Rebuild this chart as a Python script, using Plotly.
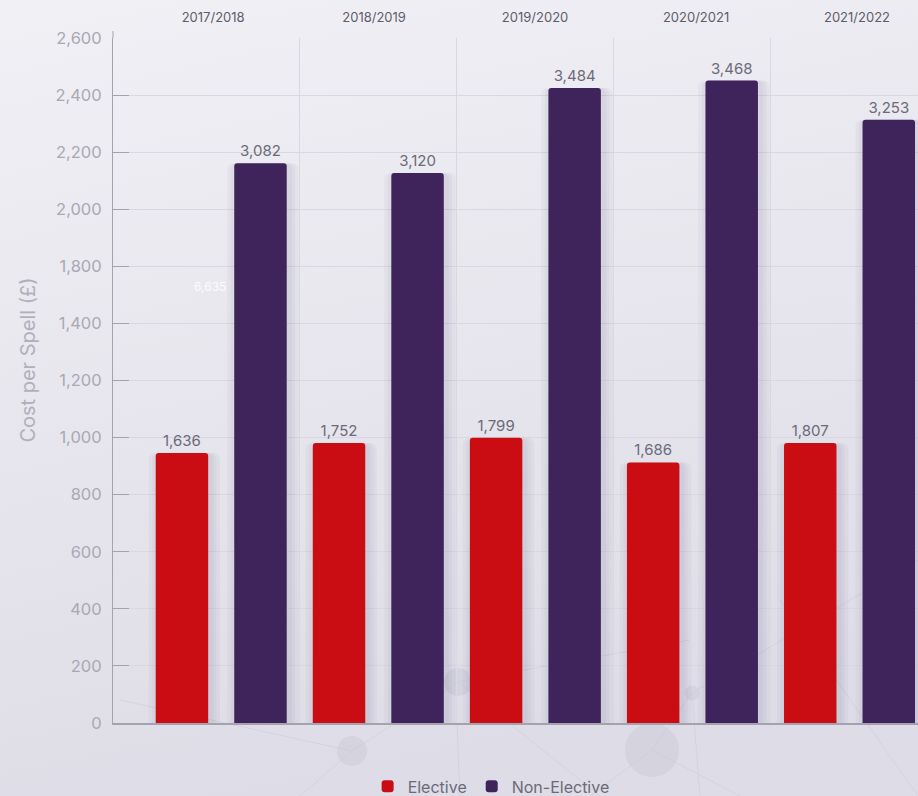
import base64
import plotly.graph_objects as go

# ---- data -------------------------------------------------------------
years = ["2017/2018", "2018/2019", "2019/2020", "2020/2021", "2021/2022"]
elective = [946, 981, 999, 913, 981]
non_elective = [1961, 1927, 2225, 2251, 2114]
elective_labels = ["1,636", "1,752", "1,799", "1,686", "1,807"]
non_elective_labels = ["3,082", "3,120", "3,484", "3,468", "3,253"]
tick_values = [0, 200, 400, 600, 800, 1000, 1200, 1400, 1600, 1800, 2000, 2200, 2400]
tick_labels = ["0", "200", "400", "600", "800", "1,000", "1,200", "1,400",
               "1,800", "2,000", "2,200", "2,400", "2,600"]
stray_label = "6,635"

# ---- style ------------------------------------------------------------
FONT = "Inter, Roboto, sans-serif"
RED = "#c90d13"
PURPLE = "#3f235b"
GRID = "#d9d8e1"
AXIS = "#a3a2ae"
W, H = 918, 796
ML, MT, MB, MR = 113, 38, 73, 0
BAR_W = 0.334
SHIFT = 0.25

x_pos = list(range(len(years)))

# soft page background with faint network decoration
svg = f"""<svg xmlns='http://www.w3.org/2000/svg' width='{W}' height='{H}' viewBox='0 0 {W} {H}' preserveAspectRatio='none'>
<defs><linearGradient id='g' x1='0' y1='0' x2='0.25' y2='1'>
<stop offset='0' stop-color='#f1f0f5'/><stop offset='1' stop-color='#dedde7'/></linearGradient></defs>
<rect width='{W}' height='{H}' fill='url(#g)'/>
<g stroke='#c6c5d3' stroke-width='1' opacity='0.45' fill='none'>
<line x1='652' y1='750' x2='692' y2='693'/>
<line x1='692' y1='693' x2='918' y2='560'/>
<line x1='692' y1='693' x2='700' y2='796'/>
<line x1='652' y1='750' x2='590' y2='796'/>
<line x1='652' y1='750' x2='740' y2='796'/>
<line x1='352' y1='751' x2='120' y2='700'/>
<line x1='352' y1='751' x2='458' y2='682'/>
<line x1='458' y1='682' x2='690' y2='640'/>
<line x1='458' y1='682' x2='600' y2='796'/>
<line x1='457' y1='723' x2='460' y2='796'/>
<line x1='780' y1='600' x2='918' y2='796'/>
<line x1='300' y1='796' x2='352' y2='751'/>
</g>
<g fill='#cccbd8' opacity='0.55'>
<circle cx='352' cy='751' r='15'/>
<circle cx='458' cy='682' r='14'/>
<circle cx='652' cy='750' r='27'/>
<circle cx='692' cy='693' r='7.5'/>
</g>
</svg>"""
bg_uri = "data:image/svg+xml;base64," + base64.b64encode(svg.encode()).decode()

fig = go.Figure()

# shadow halos behind the bars
for vals, side in ((elective, -SHIFT), (non_elective, SHIFT)):
    for extra in (0.12, 0.075, 0.035):
        w = BAR_W + extra
        fig.add_trace(go.Bar(
            x=x_pos, y=vals, width=w, offset=side - w / 2 + 0.015,
            marker=dict(color="rgba(70,60,120,0.045)", cornerradius=6, line_width=0),
            showlegend=False, hoverinfo="skip",
        ))

fig.add_trace(go.Bar(
    name="Elective", x=x_pos, y=elective, width=BAR_W, offset=-SHIFT - BAR_W / 2,
    marker=dict(color=RED, cornerradius=3, line=dict(width=0)),
    text=elective_labels, textposition="outside", constraintext="none",
    textfont=dict(family=FONT, size=15, color="#6b6a78"), cliponaxis=False,
))
fig.add_trace(go.Bar(
    name="Non-Elective", x=x_pos, y=non_elective, width=BAR_W, offset=SHIFT - BAR_W / 2,
    marker=dict(color=PURPLE, cornerradius=3, line=dict(width=0)),
    text=non_elective_labels, textposition="outside", constraintext="none",
    textfont=dict(family=FONT, size=15, color="#6b6a78"), cliponaxis=False,
))

# invisible carrier so the top category axis is drawn
fig.add_trace(go.Scatter(
    x=x_pos, y=[0] * len(years), xaxis="x2", mode="markers",
    marker=dict(opacity=0), showlegend=False, hoverinfo="skip",
))

fig.update_layout(
    width=W, height=H,
    margin=dict(l=ML, r=MR, t=MT, b=MB, pad=0, autoexpand=False),
    paper_bgcolor="#e9e8ef",
    plot_bgcolor="rgba(0,0,0,0)",
    barmode="overlay",
    font=dict(family=FONT, color="#6b6a78"),
    showlegend=True,
    legend=dict(
        orientation="h", xref="container", yref="container",
        x=0.535, xanchor="center", y=0.012, yanchor="middle",
        font=dict(family=FONT, size=16, color="#6b6a78"),
        bgcolor="rgba(0,0,0,0)", itemclick=False,
    ),
    xaxis=dict(
        range=[-0.689, 4.436], tickvals=[0.5, 1.5, 2.5, 3.5], showticklabels=False,
        showgrid=True, gridcolor=GRID, gridwidth=1, zeroline=False,
        showline=True, linecolor=AXIS, linewidth=2, ticks="", fixedrange=True,
    ),
    xaxis2=dict(
        overlaying="x", side="top", range=[-0.622, 4.379],
        tickvals=x_pos, ticktext=years, showgrid=False, zeroline=False,
        showline=False, ticks="", ticklabelstandoff=12,
        tickfont=dict(family=FONT, size=13, color="#5e5d6a"), fixedrange=True,
    ),
    yaxis=dict(
        range=[0, 2400], tickvals=tick_values, ticktext=tick_labels,
        showgrid=True, gridcolor=GRID, gridwidth=1, zeroline=False,
        showline=True, linecolor=AXIS, linewidth=1,
        ticks="inside", ticklen=16, tickcolor=AXIS, tickwidth=1,
        ticklabelstandoff=7,
        tickfont=dict(family=FONT, size=16.5, color="#a9a8b3"), fixedrange=True,
    ),
    images=[dict(
        source=bg_uri, xref="paper", yref="paper",
        x=-ML / (W - ML - MR), y=1 + MT / (H - MT - MB),
        sizex=W / (W - ML - MR), sizey=H / (H - MT - MB),
        xanchor="left", yanchor="top", sizing="stretch", layer="below",
    )],
    annotations=[
        dict(text="Cost per Spell (£)", textangle=-90, xref="paper", yref="paper",
             x=-0.106, y=0.53, xanchor="center", yanchor="middle", showarrow=False,
             font=dict(family=FONT, size=20, color="#b1b0ba")),
        dict(text=stray_label, xref="x", yref="y", x=-0.073, y=1528,
             showarrow=False, font=dict(family=FONT, size=12, color="rgba(255,255,255,0.9)")),
    ],
    shapes=[dict(type="line", xref="paper", yref="paper", x0=0, x1=0,
                 y0=1, y1=1 + 7 / (H - MT - MB), line=dict(color=AXIS, width=1))],
)

fig.write_html("out.html")
